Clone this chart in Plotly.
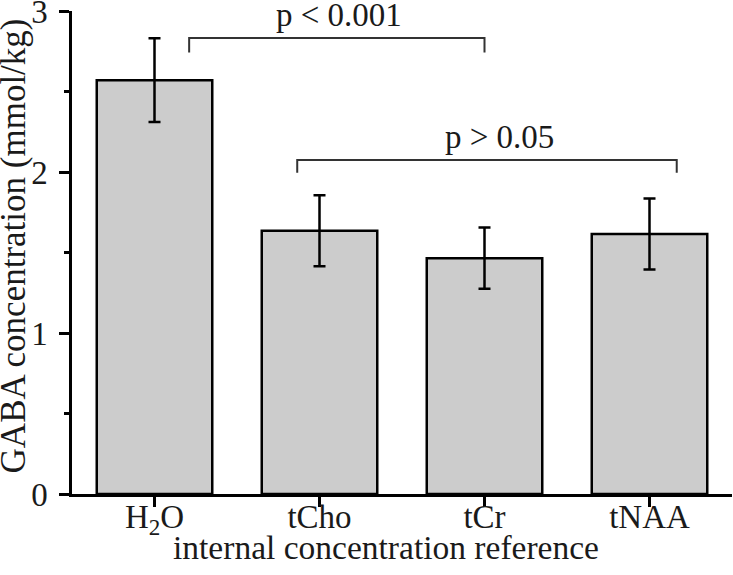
import plotly.graph_objects as go

categories = ["H2O", "tCho", "tCr", "tNAA"]
tick_labels = ["H<sub>2</sub>O", "tCho", "tCr", "tNAA"]
means = [2.57, 1.635, 1.465, 1.615]
errors = [0.26, 0.22, 0.19, 0.22]

# significance brackets
bracket_x0 = [0.21, 0.865]
bracket_x1 = [2.0, 3.165]
bracket_y = [2.832, 2.074]
bracket_drop = [2.742, 1.996]
bracket_labels = ["p < 0.001", "p > 0.05"]
label_x = [1.117, 2.088]
label_y = [2.976, 2.22]

x_title = "internal concentration reference"
y_title = "GABA concentration (mmol/kg)"

FONT = "Liberation Serif, Times New Roman, serif"
TXT = "#1a1a1a"

fig = go.Figure()
fig.add_trace(go.Bar(
    x=list(range(len(categories))),
    y=means,
    width=0.7,
    marker=dict(color="#cccccc", line=dict(color="black", width=2.5)),
    error_y=dict(type="data", array=errors, visible=True, color="black",
                 thickness=2.5, width=6),
    showlegend=False,
    hoverinfo="skip",
))

shapes = []
for x0, x1, yt, yd in zip(bracket_x0, bracket_x1, bracket_y, bracket_drop):
    shapes.append(dict(type="path", xref="x", yref="y",
                       path=f"M {x0},{yd} L {x0},{yt} L {x1},{yt} L {x1},{yd}",
                       line=dict(color="#333333", width=2)))

annotations = []
for lbl, lx, ly in zip(bracket_labels, label_x, label_y):
    annotations.append(dict(x=lx, y=ly, xref="x", yref="y", text=lbl,
                            showarrow=False, xanchor="center", yanchor="middle",
                            font=dict(family=FONT, size=33, color=TXT)))
# axis titles
annotations.append(dict(x=0.476, y=-0.11, xref="paper", yref="paper",
                        text=x_title, showarrow=False,
                        xanchor="center", yanchor="middle",
                        font=dict(family=FONT, size=33.5, color=TXT)))
annotations.append(dict(x=-0.088, y=0.5145, xref="paper", yref="paper",
                        text=y_title, showarrow=False, textangle=-90,
                        xanchor="center", yanchor="middle",
                        font=dict(family=FONT, size=35, color=TXT)))

fig.update_layout(
    width=733, height=575,
    margin=dict(l=72, r=1, t=11, b=81),
    plot_bgcolor="white", paper_bgcolor="white",
    shapes=shapes, annotations=annotations,
    font=dict(family=FONT, size=33, color=TXT),
    bargap=0.3,
)
fig.update_xaxes(
    range=[-0.5, 3.5],
    tickvals=list(range(len(categories))), ticktext=tick_labels,
    showline=True, linecolor="black", linewidth=2.5,
    ticks="outside", ticklen=10, tickwidth=2.5, tickcolor="black",
    showgrid=False, zeroline=False,
    ticklabelstandoff=-18,
    automargin=False,
    tickfont=dict(family=FONT, size=33, color=TXT),
)
fig.update_yaxes(
    range=[0, 3],
    tick0=0, dtick=1,
    showline=True, linecolor="black", linewidth=2.5,
    ticks="outside", ticklen=10, tickwidth=2.5, tickcolor="black",
    minor=dict(ticks="outside", ticklen=5, tickwidth=2.5, tickcolor="black",
               dtick=0.5, showgrid=False),
    showgrid=False, zeroline=False,
    ticklabeloverflow="allow",
    ticklabelstandoff=5,
    automargin=False,
    tickfont=dict(family=FONT, size=33, color=TXT),
)

# remove the browser's default 8px body margin so the figure fills the window
fig.write_html("out.html", config={"displayModeBar": False},
               post_script="document.body.style.margin='0';")
